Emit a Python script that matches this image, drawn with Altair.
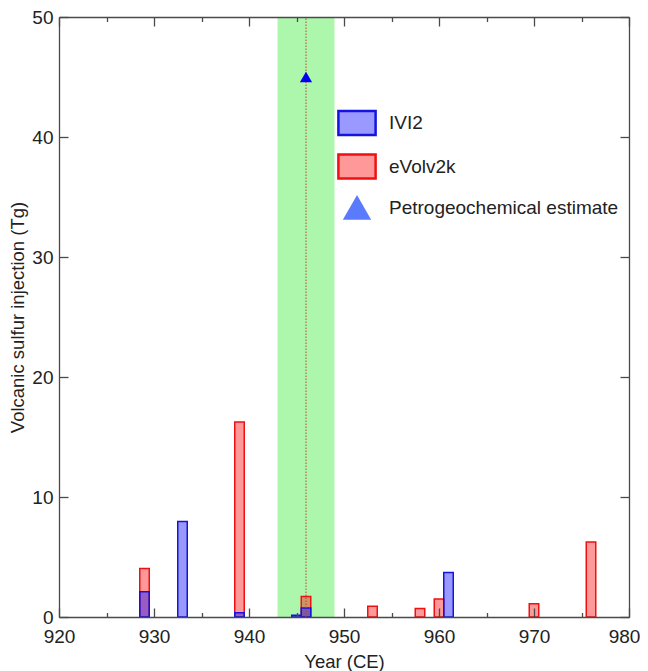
import altair as alt
import pandas as pd

# ---------------- data ----------------
ivi2_years = [929, 933, 939, 945, 946, 961]
ivi2_values = [2.1, 7.95, 0.35, 0.15, 0.75, 3.7]

evolv_years = [929, 939, 946, 953, 958, 960, 970, 976]
evolv_values = [4.05, 16.25, 1.7, 0.9, 0.7, 1.5, 1.1, 6.25]

petro_years = [946]
petro_values = [45]

band_start = [943]
band_end = [949]
eruption_year = [946]

series_names = ["IVI2", "eVolv2k", "Petrogeochemical estimate"]

x_major = [920, 930, 940, 950, 960, 970, 980]
x_ticks = [920, 925, 930, 935, 940, 945, 950, 955, 960, 965, 970, 975, 980]
y_major = [0, 10, 20, 30, 40, 50]

# ---------------- styling ----------------
FONT = "Liberation Sans"
AX = "#4a4a4a"
TXT = "#222222"
W, H = 570, 600
FS = 19       # tick labels and legend
FT = 18.5     # axis titles

fill_range = ["rgba(0,0,255,0.4)", "rgba(255,0,0,0.4)", "#5b7bff"]
stroke_range = ["#1414e0", "#ee1111", "#5b7bff"]
rect_path = "M-1.55,-1H1.55V1H-1.55Z"
shape_range = [rect_path, rect_path, "triangle-up"]

bars_df = pd.DataFrame({
    "year": evolv_years + ivi2_years,
    "value": evolv_values + ivi2_values,
    "series": ["eVolv2k"] * len(evolv_years) + ["IVI2"] * len(ivi2_years),
})
petro_df = pd.DataFrame({
    "year": petro_years,
    "value": petro_values,
    "series": ["Petrogeochemical estimate"] * len(petro_years),
})
band_df = pd.DataFrame({"start": band_start, "end": band_end})
rule_df = pd.DataFrame({"year": eruption_year})

xscale = alt.Scale(domain=[920, 980], nice=False, zero=False)
yscale = alt.Scale(domain=[0, 50], nice=False, zero=True)

tick_size_x = {"condition": {"test": "datum.value % 10 === 0", "value": 9}, "value": 4.5}

common_tick = dict(labels=False, domain=True, domainColor=AX, domainWidth=1.3,
                   tickColor=AX, tickWidth=1.3, grid=False, title=None, zindex=2)

axis_x_labels = alt.Axis(orient="bottom", values=x_major, format="d", ticks=False, tickSize=0,
                         domain=False, grid=False, labelFont=FONT, labelFontSize=FS,
                         labelColor=TXT, labelPadding=10, labelFlush=False,
                         labelOffset={"condition": {"test": "datum.value === 980", "value": -5},
                                      "value": 0},
                         title="Year (CE)", titleFont=FONT,
                         titleFontSize=FT, titleFontWeight="normal", titleColor=TXT,
                         titlePadding=6)
axis_x_bottom_ticks = alt.Axis(orient="top", offset=-H, values=x_ticks, tickSize=tick_size_x,
                               **common_tick)
axis_x_top_ticks = alt.Axis(orient="bottom", offset=-H, values=x_ticks, tickSize=tick_size_x,
                            **common_tick)

axis_y_labels = alt.Axis(orient="left", values=y_major, format="d", ticks=False, tickSize=0,
                         domain=False, grid=False, labelFont=FONT, labelFontSize=FS,
                         labelColor=TXT, labelPadding=6, labelFlush=False,
                         title="Volcanic sulfur injection (Tg)", titleFont=FONT,
                         titleFontSize=FT, titleFontWeight="normal", titleColor=TXT,
                         titlePadding=4)
axis_y_left_ticks = alt.Axis(orient="right", offset=-W, values=y_major, tickSize=9, **common_tick)
axis_y_right_ticks = alt.Axis(orient="left", offset=-W, values=y_major, tickSize=9, **common_tick)

legend = alt.Legend(orient="none", legendX=284.5, legendY=92.5, title=None, symbolSize=576,
                    symbolStrokeWidth=2.5, labelFontSize=FS, labelFont=FONT, labelColor=TXT,
                    labelOffset=18.5, rowPadding=8.5, padding=0, labelLimit=400)

band = alt.Chart(band_df).mark_rect(color="#adf7ad").encode(
    x=alt.X("start:Q", scale=xscale, axis=axis_x_labels),
    x2="end:Q",
    y=alt.Y(datum=50, type="quantitative", scale=yscale, axis=axis_y_labels),
    y2=alt.datum(0),
)

bars = alt.Chart(bars_df).transform_calculate(
    x0="datum.year - 0.5", x1="datum.year + 0.5"
).mark_rect(strokeWidth=1.5).encode(
    x=alt.X("x0:Q", scale=xscale, axis=axis_x_bottom_ticks),
    x2="x1:Q",
    y=alt.Y("value:Q", scale=yscale, axis=axis_y_left_ticks),
    y2=alt.datum(0),
    fill=alt.Fill("series:N", scale=alt.Scale(domain=series_names, range=fill_range), legend=legend),
    stroke=alt.Stroke("series:N", scale=alt.Scale(domain=series_names, range=stroke_range), legend=legend),
)

rule = alt.Chart(rule_df).mark_rule(color="#c0402a", strokeDash=[1.5, 1.5], strokeWidth=1).encode(
    x=alt.X("year:Q", scale=xscale, axis=axis_x_top_ticks),
    y=alt.Y(datum=0, type="quantitative", scale=yscale, axis=axis_y_right_ticks),
    y2=alt.datum(50),
)

point = alt.Chart(petro_df).mark_point(filled=True, size=150, color="#0000ee", opacity=1).encode(
    x=alt.X("year:Q", scale=xscale, axis=None),
    y=alt.Y("value:Q", scale=yscale, axis=None),
    shape=alt.Shape("series:N", scale=alt.Scale(domain=series_names, range=shape_range), legend=legend),
)

chart = alt.layer(band, bars, rule, point).resolve_axis(
    x="independent", y="independent"
).properties(
    width=W, height=H,
    autosize=alt.AutoSizeParams(type="none"),
    padding={"left": 51, "top": 9, "right": 11, "bottom": 54},
).configure_view(stroke="transparent")

chart.save("out.html", embed_options={"renderer": "svg", "actions": False})
